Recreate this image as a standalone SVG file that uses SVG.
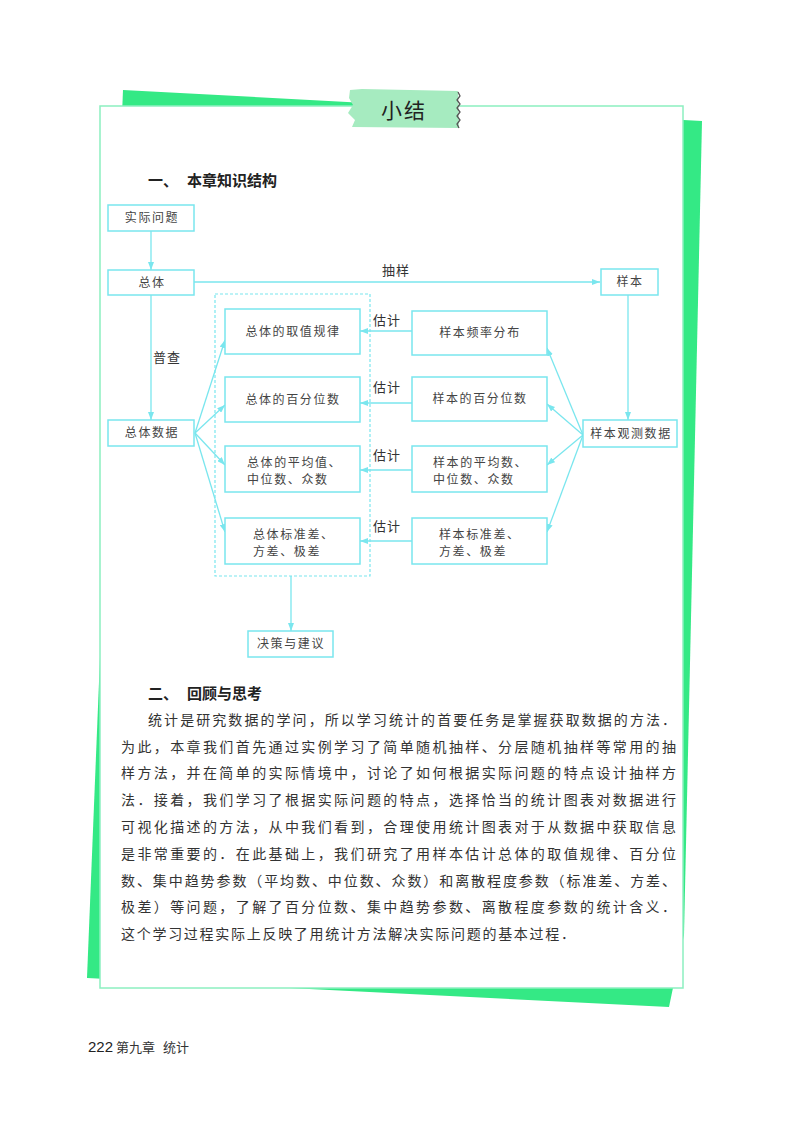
<svg xmlns="http://www.w3.org/2000/svg" width="800" height="1123" viewBox="0 0 800 1123">
<style>
.bg{fill:#34e985}
.frame{fill:#ffffff;stroke:#8cefc0;stroke-width:1.5}
.box{fill:#ffffff;stroke:#7ae6ee;stroke-width:1.5}
.dash{fill:none;stroke:#7ae6ee;stroke-width:1.2;stroke-dasharray:3 2}
.ln{fill:none;stroke:#7ae6ee;stroke-width:1.3;marker-end:url(#ah)}
.t{font-family:"Noto Sans CJK SC","Noto Sans",sans-serif;font-size:12px;fill:#444;letter-spacing:1.6px}
.tm{text-anchor:middle}
.lab{font-family:"Noto Sans CJK SC","Noto Sans",sans-serif;font-size:13px;fill:#333;letter-spacing:1px}
.h{font-family:"Noto Sans CJK SC","Noto Sans",sans-serif;font-size:15px;font-weight:bold;fill:#222}
.p{font-family:"Noto Sans CJK SC","Noto Sans",sans-serif;font-size:14px;fill:#333}
</style>
<defs>
<marker id="ah" markerUnits="userSpaceOnUse" markerWidth="8" markerHeight="6" refX="8" refY="3" orient="auto">
<path d="M0,0 L8,3 L0,6 z" fill="#7ae6ee"/>
</marker>
</defs>
<rect width="800" height="1123" fill="#ffffff"/>
<g id="background">
<polygon class="bg" points="123,90 702,121 684,935 669,1007 87,978"/>
<rect class="frame" x="100" y="106" width="583" height="882"/>
</g>
<g id="title">
<polygon points="350,90 362,89 458,91 459,128 352,127 355,120 348,113 353,105 349,98" fill="#a6ebc0"/>
<path d="M458,92 L460,96 L457,100 L460,104 L457,108 L460,112 L457,116 L460,120 L457,124 L459,128" fill="none" stroke="#555" stroke-width="1.3"/>
<text x="404" y="118" text-anchor="middle" font-family="Noto Sans CJK SC, sans-serif" font-size="21" fill="#222" letter-spacing="2">小结</text>
</g>
<g id="heading1"><text class="h" x="148" y="186">一、</text><text class="h" x="187" y="186">本章知识结构</text></g>
<g id="connectors">
<path class="ln" d="M151,231 L151,270"/>
<path class="ln" d="M194,282 L600,282"/>
<path class="ln" d="M151,295 L151,420"/>
<path class="ln" d="M628,295 L628,420"/>
<path class="ln" d="M195,433 L225,340"/>
<path class="ln" d="M195,433 L225,405"/>
<path class="ln" d="M195,433 L225,465"/>
<path class="ln" d="M195,433 L225,532"/>
<path class="ln" d="M583,435 L547,348"/>
<path class="ln" d="M583,435 L547,404"/>
<path class="ln" d="M583,435 L547,465"/>
<path class="ln" d="M583,435 L547,532"/>
<path class="ln" d="M412,331 L360,331"/>
<path class="ln" d="M412,403 L360,403"/>
<path class="ln" d="M412,470 L360,470"/>
<path class="ln" d="M412,541 L360,541"/>
<path class="ln" d="M291,576 L291,631"/>
<text class="lab" x="382" y="275">抽样</text>
<text class="lab" x="153" y="362">普查</text>
<text class="lab" x="373" y="325">估计</text>
<text class="lab" x="373" y="392">估计</text>
<text class="lab" x="373" y="460">估计</text>
<text class="lab" x="373" y="531">估计</text>
</g>
<g id="container"><rect class="dash" x="215" y="294" width="155" height="282"/></g>
<g id="n-problem"><rect class="box" x="108" y="205" width="86" height="26"/><text class="t tm" x="152" y="222">实际问题</text></g>
<g id="n-population"><rect class="box" x="108" y="270" width="86" height="25"/><text class="t tm" x="152" y="287">总体</text></g>
<g id="n-popdata"><rect class="box" x="108" y="420" width="86" height="26"/><text class="t tm" x="152" y="437">总体数据</text></g>
<g id="n-sample"><rect class="box" x="601" y="269" width="57" height="26"/><text class="t tm" x="630" y="286">样本</text></g>
<g id="n-sampledata"><rect class="box" x="583" y="420" width="94" height="27"/><text class="t tm" x="631" y="438">样本观测数据</text></g>
<g id="n-pop-dist"><rect class="box" x="225" y="309" width="135" height="45"/><text class="t tm" x="293" y="336">总体的取值规律</text></g>
<g id="n-pop-pct"><rect class="box" x="225" y="377" width="135" height="45"/><text class="t tm" x="293" y="404">总体的百分位数</text></g>
<g id="n-pop-mean"><rect class="box" x="225" y="446" width="135" height="46"/><text class="t" x="247" y="467">总体的平均值、</text><text class="t" x="247" y="484">中位数、众数</text></g>
<g id="n-pop-sd"><rect class="box" x="225" y="518" width="135" height="46"/><text class="t" x="253" y="539">总体标准差、</text><text class="t" x="253" y="556">方差、极差</text></g>
<g id="n-smp-dist"><rect class="box" x="412" y="311" width="135" height="44"/><text class="t tm" x="480" y="337">样本频率分布</text></g>
<g id="n-smp-pct"><rect class="box" x="412" y="377" width="135" height="44"/><text class="t tm" x="480" y="403">样本的百分位数</text></g>
<g id="n-smp-mean"><rect class="box" x="412" y="446" width="135" height="46"/><text class="t" x="433" y="467">样本的平均数、</text><text class="t" x="433" y="484">中位数、众数</text></g>
<g id="n-smp-sd"><rect class="box" x="412" y="518" width="135" height="46"/><text class="t" x="439" y="539">样本标准差、</text><text class="t" x="439" y="556">方差、极差</text></g>
<g id="n-decision"><rect class="box" x="248" y="631" width="85" height="26"/><text class="t tm" x="291" y="648">决策与建议</text></g>
<g id="heading2"><text class="h" x="148" y="699">二、</text><text class="h" x="187" y="699">回顾与思考</text></g>
<g id="paragraph">
<text class="p" x="148" y="725" textLength="528" lengthAdjust="spacing">统计是研究数据的学问，所以学习统计的首要任务是掌握获取数据的方法．</text>
<text class="p" x="121" y="752" textLength="555" lengthAdjust="spacing">为此，本章我们首先通过实例学习了简单随机抽样、分层随机抽样等常用的抽</text>
<text class="p" x="121" y="778" textLength="555" lengthAdjust="spacing">样方法，并在简单的实际情境中，讨论了如何根据实际问题的特点设计抽样方</text>
<text class="p" x="121" y="805" textLength="555" lengthAdjust="spacing">法．接着，我们学习了根据实际问题的特点，选择恰当的统计图表对数据进行</text>
<text class="p" x="121" y="832" textLength="555" lengthAdjust="spacing">可视化描述的方法，从中我们看到，合理使用统计图表对于从数据中获取信息</text>
<text class="p" x="121" y="859" textLength="555" lengthAdjust="spacing">是非常重要的．在此基础上，我们研究了用样本估计总体的取值规律、百分位</text>
<text class="p" x="121" y="886" textLength="555" lengthAdjust="spacing">数、集中趋势参数（平均数、中位数、众数）和离散程度参数（标准差、方差、</text>
<text class="p" x="121" y="912" textLength="555" lengthAdjust="spacing">极差）等问题，了解了百分位数、集中趋势参数、离散程度参数的统计含义．</text>
<text class="p" x="121" y="939" textLength="454" lengthAdjust="spacing">这个学习过程实际上反映了用统计方法解决实际问题的基本过程．</text>
</g>
<g id="footer">
<text x="88" y="1052" font-family="Liberation Sans Narrow, Liberation Sans, sans-serif" font-size="15" fill="#222">222</text>
<text x="116" y="1052" font-family="Noto Sans CJK SC, sans-serif" font-size="13" fill="#333">第九章</text>
<text x="163" y="1052" font-family="Noto Sans CJK SC, sans-serif" font-size="13" fill="#333">统计</text>
</g>
</svg>
